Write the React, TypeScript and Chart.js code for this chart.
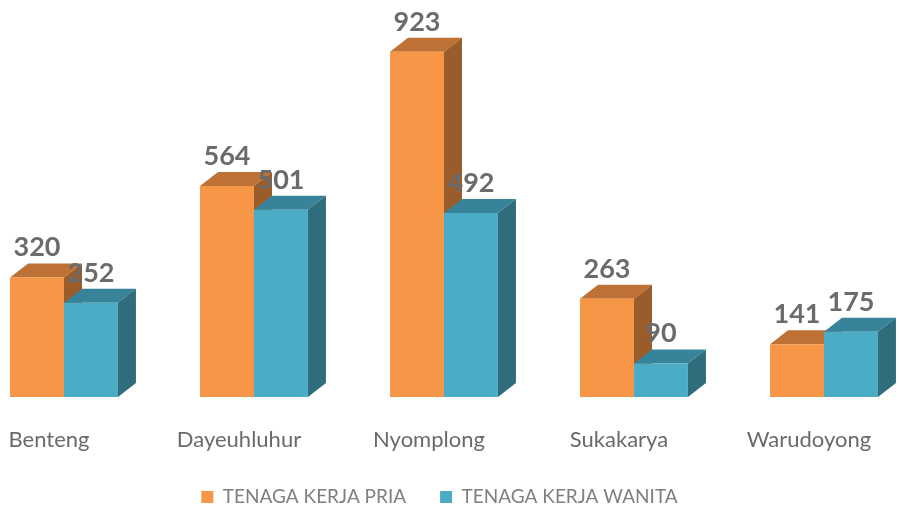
import { useEffect, useRef } from 'react';
import { Chart, registerables } from 'chart.js';

Chart.register(...registerables);

const categories = ['Benteng', 'Dayeuhluhur', 'Nyomplong', 'Sukakarya', 'Warudoyong'];
const pria = [320, 564, 923, 263, 141];
const wanita = [252, 501, 492, 90, 175];
const seriesNames = ['TENAGA KERJA PRIA', 'TENAGA KERJA WANITA'];

const palette = [
  { front: '#F79646', top: '#BE7134', side: '#9B5C2B' },
  { front: '#4BACC6', top: '#37839A', side: '#2F6D7C' },
];

// extrusion of each bar toward the back-right
const DX = 18;
const DY = 14;

const bars3d = {
  id: 'bars3d',
  beforeDatasetsDraw(chart: any) {
    const ctx = chart.ctx;
    ctx.save();
    chart.data.datasets.forEach((_ds: any, i: number) => {
      const meta = chart.getDatasetMeta(i);
      meta.data.forEach((bar: any) => {
        const { x, y, base, width } = bar.getProps(['x', 'y', 'base', 'width'], true);
        const l = x - width / 2;
        const r = x + width / 2;
        ctx.fillStyle = palette[i].top;
        ctx.beginPath();
        ctx.moveTo(l, y);
        ctx.lineTo(l + DX, y - DY);
        ctx.lineTo(r + DX, y - DY);
        ctx.lineTo(r, y);
        ctx.closePath();
        ctx.fill();
        ctx.fillStyle = palette[i].side;
        ctx.beginPath();
        ctx.moveTo(r, y);
        ctx.lineTo(r + DX, y - DY);
        ctx.lineTo(r + DX, base - DY);
        ctx.lineTo(r, base);
        ctx.closePath();
        ctx.fill();
      });
    });
    ctx.restore();
  },
  afterDatasetsDraw(chart: any) {
    const ctx = chart.ctx;
    ctx.save();
    ctx.font = 'bold 27px Lato';
    ctx.fillStyle = '#6B6B6B';
    ctx.textAlign = 'center';
    ctx.textBaseline = 'alphabetic';
    chart.data.datasets.forEach((ds: any, i: number) => {
      const meta = chart.getDatasetMeta(i);
      meta.data.forEach((bar: any, j: number) => {
        const { x, y } = bar.getProps(['x', 'y'], true);
        ctx.fillText(String(ds.data[j]), x, y - DY - 7);
      });
    });
    ctx.restore();
  },
};

export default function App() {
  const ref = useRef<HTMLCanvasElement>(null);

  useEffect(() => {
    document.body.style.margin = '0';
    const chart = new Chart(ref.current!, {
      type: 'bar',
      data: {
        labels: categories,
        datasets: [
          {
            label: seriesNames[0],
            data: pria,
            backgroundColor: palette[0].front,
            borderWidth: 0,
            clip: false as any,
            categoryPercentage: 0.568,
            barPercentage: 1,
          },
          {
            label: seriesNames[1],
            data: wanita,
            backgroundColor: palette[1].front,
            borderWidth: 0,
            clip: false as any,
            categoryPercentage: 0.568,
            barPercentage: 1,
          },
        ],
      },
      options: {
        responsive: false,
        animation: false,
        layout: { padding: { top: 23, left: 0, right: 20, bottom: -7.5 } },
        plugins: {
          tooltip: { enabled: false },
          legend: {
            position: 'bottom',
            labels: {
              boxWidth: 12,
              boxHeight: 12,
              padding: 34,
              color: '#7F7F7F',
              font: { family: 'Lato', size: 19 },
            },
          },
        },
        scales: {
          x: {
            offset: false,
            grid: { display: false },
            border: { display: false },
            ticks: {
              autoSkip: false,
              maxRotation: 0,
              labelOffset: -15,
              padding: 22,
              color: '#6A6A6A',
              font: { family: 'Lato', size: 22 },
            },
            afterFit: (s: any) => {
              s.paddingLeft = 0;
              s.paddingRight = 0;
              s.height = s.height - 22;
            },
          },
          y: {
            min: 0,
            max: 1000,
            grid: { display: false },
            border: { display: false },
            ticks: { display: false },
            afterFit: (s: any) => {
              s.width = 64;
            },
          },
          yRight: {
            position: 'right',
            min: 0,
            max: 1000,
            grid: { display: false },
            border: { display: false },
            ticks: { display: false },
            afterFit: (s: any) => {
              s.width = 55;
            },
          },
        },
      },
      plugins: [bars3d],
    });
    return () => chart.destroy();
  }, []);

  return (
    <div style={{ width: 899, height: 509 }}>
      <canvas ref={ref} width={899} height={509} />
    </div>
  );
}
